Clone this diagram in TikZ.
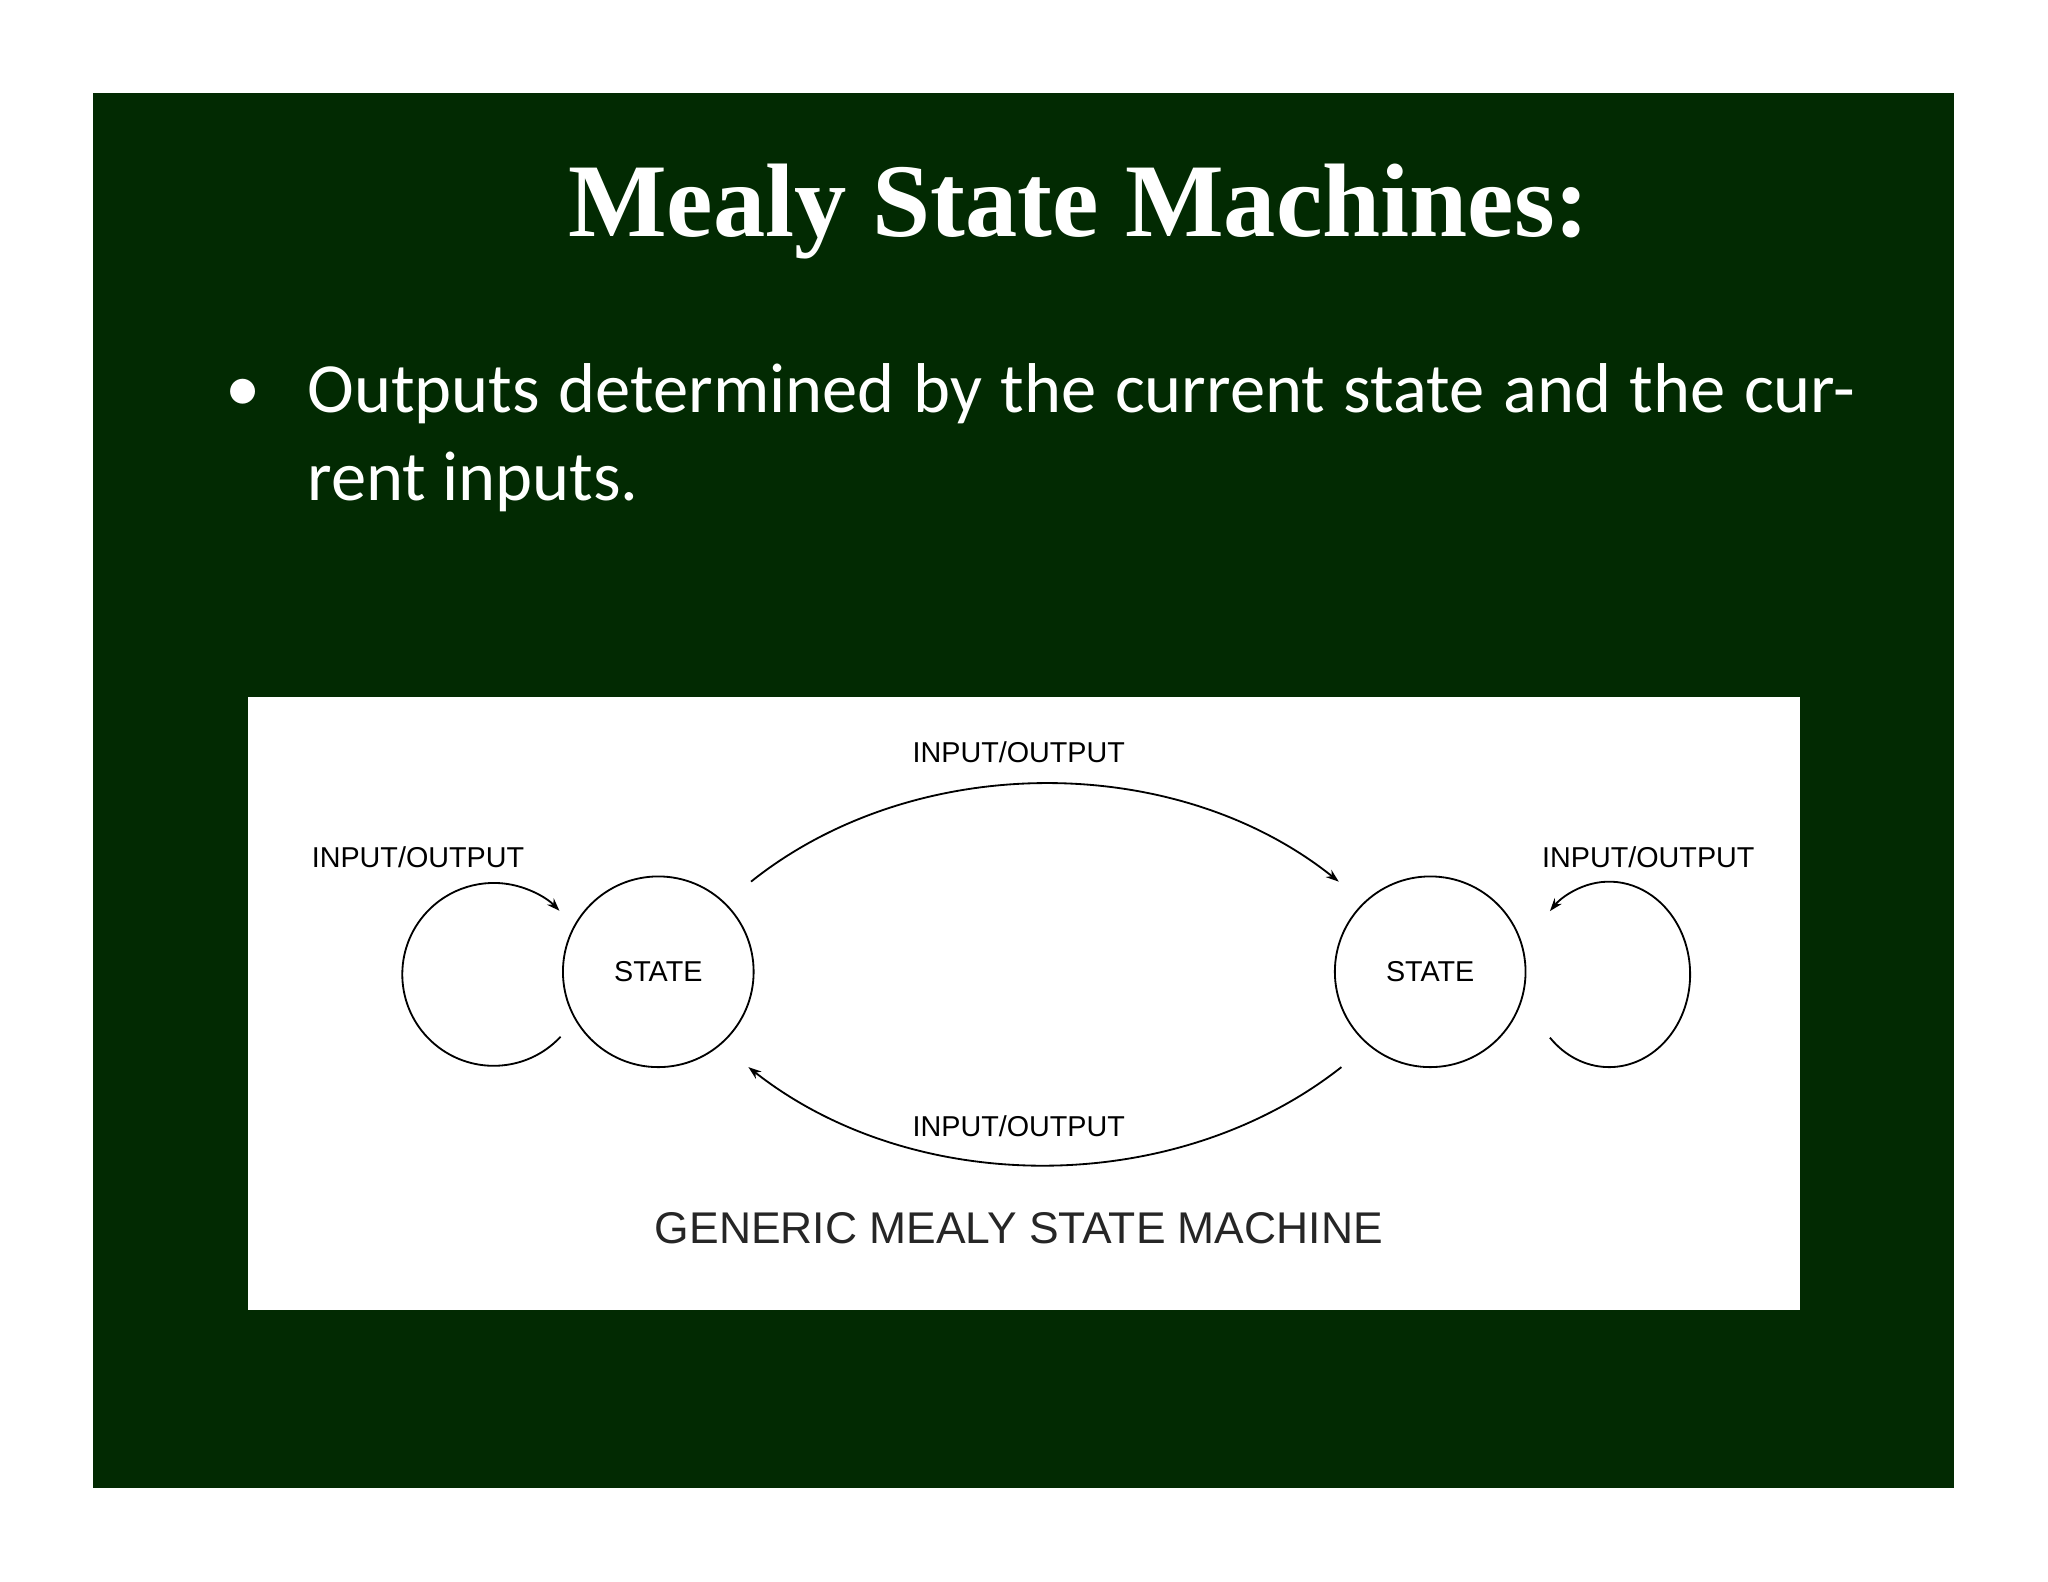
\documentclass[tikz,border=0pt]{standalone}
\usepackage{fontspec}
\setmainfont{Liberation Serif}
\newfontfamily\calfnt{Carlito}
\newfontfamily\arifnt{Liberation Sans}
\usetikzlibrary{arrows.meta}
\definecolor{bg}{HTML}{022A02}
\begin{document}
\begin{tikzpicture}[x=0.5pt,y=-0.5pt,
  lbl/.style={font=\arifnt\fontsize{11}{12}\selectfont, inner sep=0pt},
  st/.style={circle, draw, line width=0.7pt, minimum size=73pt, font=\arifnt\fontsize{11}{12}\selectfont},
  edge/.style={line width=0.7pt, -{Stealth[length=5pt,width=3.5pt]}}]
\useasboundingbox (0,0) rectangle (1568,1211);
\fill[white] (0,0) rectangle (1568,1211);
\fill[bg] (71,71) rectangle (1496,1139);
\node[text=white, font=\bfseries\fontsize{40}{44}\selectfont] (title) at (826,162) {Mealy State Machines:};
\node[text=white, font=\calfnt\fontsize{27}{33.5}\selectfont, anchor=north west, inner sep=0pt, text width=592.5pt, align=justify] (txt) at (235,278) {Outputs determined by the current state and the current inputs.};
\node[text=white, font=\calfnt\fontsize{27}{33.5}\selectfont, inner sep=0pt] (bul) at (186,303) {•};
\fill[white] (190,534) rectangle (1378,1003);
\node[st] (s1) at (504,744) {STATE};
\node[st] (s2) at (1095,744) {STATE};
\draw[edge] (575,675) .. controls (700,575) and (900,575) .. (1025,675);
\draw[edge] (1027,817) .. controls (900,917) and (700,917) .. (573,817);
\draw[edge] (378,746) ++(43:70) arc[start angle=43, end angle=316, radius=70];
\draw[edge] (1232,746) ++(137:62 and 71) arc[start angle=137, end angle=-137, x radius=62, y radius=71];
\node[lbl] (l1) at (320,656) {INPUT/OUTPUT};
\node[lbl] (l2) at (780,576) {INPUT/OUTPUT};
\node[lbl] (l3) at (1262,656) {INPUT/OUTPUT};
\node[lbl] (l4) at (780,862) {INPUT/OUTPUT};
\node[font=\arifnt\fontsize{17}{20}\selectfont, text=black!85] (cap) at (780,940) {GENERIC MEALY STATE MACHINE};
\end{tikzpicture}
\end{document}
